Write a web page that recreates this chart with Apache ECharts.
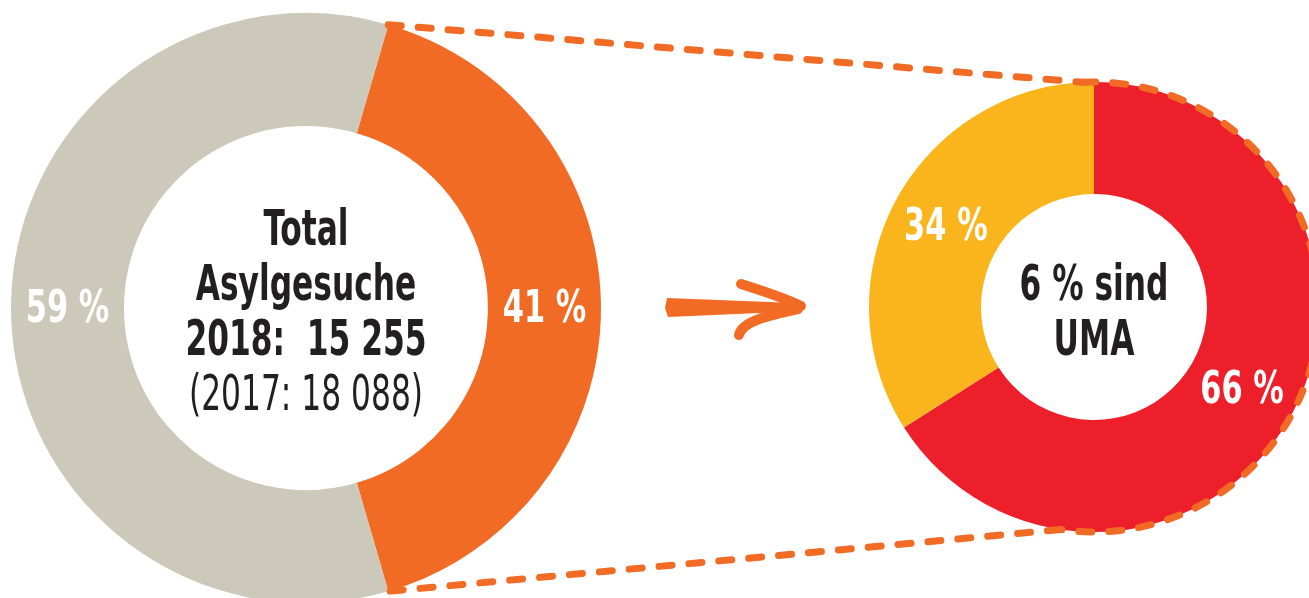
<!DOCTYPE html>
<html>
<head>
<meta charset="utf-8">
<script src="https://cdn.jsdelivr.net/npm/echarts@6/dist/echarts.min.js"></script>
<style>
  html, body { margin: 0; padding: 0; background: #fff; }
  #main { width: 1309px; height: 598px; }
</style>
</head>
<body>
<div id="main"></div>
<script>
  // Daten
  var totalNames = ['UMA-Anteil', 'Andere']
  var totalValues = [41, 59]
  var umaNames = ['66', '34']
  var umaValues = [66, 34]
  var centerTotal = ['Total', 'Asylgesuche', '2018:  15 255', '(2017: 18 088)']
  var centerUma = ['6 % sind', 'UMA']

  var FONT = '"DejaVu Sans Condensed", "DejaVu Sans", sans-serif'
  var ORANGE = '#f26b24'
  var GRAY = '#cdc9ba'
  var RED = '#ed1f2a'
  var YELLOW = '#f9b51b'
  var DARK = '#231f20'

  // layout
  var left = { cx: 306, cy: 308, r0: 182, r: 295 }
  var right = { cx: 1094, cy: 307, r0: 113, r: 225 }
  // orange slice is centred on 3 o'clock
  var leftStart = totalValues[0] / 100 * 360 / 2

  var chart = echarts.init(document.getElementById('main'), null, { renderer: 'canvas' })

  // dashed connector, derived from the pie geometry
  var a = leftStart * Math.PI / 180
  var pTop = [left.cx + left.r * Math.cos(a), left.cy - left.r * Math.sin(a)]
  var pBot = [left.cx + left.r * Math.cos(a), left.cy + left.r * Math.sin(a)]
  var arcStart = -Math.PI / 2 - 0.05
  var arcEnd = Math.PI / 2 + 0.15
  var qTop = [right.cx + right.r * Math.cos(arcStart), right.cy + right.r * Math.sin(arcStart)]
  var qBot = [right.cx + right.r * Math.cos(arcEnd), right.cy + right.r * Math.sin(arcEnd)]
  var dashStyle = { stroke: ORANGE, lineWidth: 7, lineDash: [13, 17], lineCap: 'round', fill: null }

  function textEl (t, x, y, scale, font, color) {
    return {
      type: 'text',
      x: x,
      y: y,
      scaleX: scale,
      z: 20,
      style: {
        text: t,
        fill: color,
        font: font,
        textAlign: 'center',
        textVerticalAlign: 'middle'
      }
    }
  }

  function centerTexts (lines, cx, startY, step, lastNormal) {
    return lines.map(function (t, i) {
      var w = (lastNormal && i === lines.length - 1) ? 'normal' : 'bold'
      return textEl(t, cx, startY + i * step, 0.71, w + ' 49px ' + FONT, DARK)
    })
  }

  var graphics = [
    { type: 'line', z: 15, shape: { x1: pTop[0], y1: pTop[1], x2: qTop[0], y2: qTop[1] }, style: dashStyle },
    { type: 'line', z: 15, shape: { x1: qBot[0], y1: qBot[1], x2: pBot[0], y2: pBot[1] }, style: dashStyle },
    { type: 'arc', z: 15, shape: { cx: right.cx, cy: right.cy, r: right.r, startAngle: arcStart, endAngle: arcEnd, clockwise: true }, style: dashStyle },
    // Pfeil
    { type: 'polygon', z: 15, shape: { points: [[667, 298], [795, 303], [804, 307], [782, 312], [668, 317], [665, 308]] }, style: { fill: ORANGE } },
    { type: 'bezierCurve', z: 15, shape: { x1: 741, y1: 284, x2: 801, y2: 306, cpx1: 760, cpy1: 290, cpx2: 785, cpy2: 298 }, style: { stroke: ORANGE, lineWidth: 10, lineCap: 'round', fill: null } },
    { type: 'bezierCurve', z: 15, shape: { x1: 739, y1: 335, x2: 798, y2: 309, cpx1: 742, cpy1: 322, cpx2: 765, cpy2: 316 }, style: { stroke: ORANGE, lineWidth: 10, lineCap: 'round', fill: null } }
  ]
  graphics = graphics.concat(centerTexts(centerTotal, left.cx, 232, 55, true))
  graphics = graphics.concat(centerTexts(centerUma, right.cx, 287, 55, false))

  function pieSeries (geo, start, names, values, colors) {
    return {
      type: 'pie',
      center: [geo.cx, geo.cy],
      radius: [geo.r0, geo.r],
      startAngle: start,
      clockwise: true,
      silent: true,
      label: { show: false },
      labelLine: { show: false },
      itemStyle: { borderWidth: 0 },
      data: names.map(function (n, i) {
        return { name: n, value: values[i], itemStyle: { color: colors[i] } }
      })
    }
  }

  var option = {
    backgroundColor: '#fff',
    animation: false,
    series: [
      pieSeries(left, leftStart, totalNames, totalValues, [ORANGE, GRAY]),
      pieSeries(right, 90, umaNames, umaValues, [RED, YELLOW])
    ],
    graphic: graphics
  }

  chart.setOption(option)

  // Prozent-Labels in der Ringmitte, Position aus dem Pie-Layout
  var labels = []
  ;[0, 1].forEach(function (si) {
    var data = chart.getModel().getSeriesByIndex(si).getData()
    data.each(function (i) {
      var l = data.getItemLayout(i)
      var mid = (l.startAngle + l.endAngle) / 2
      var rm = (l.r + l.r0) / 2
      labels.push(textEl(data.get('value', i) + ' %', l.cx + rm * Math.cos(mid), l.cy + rm * Math.sin(mid) + 3,
        0.77, 'bold 44px ' + FONT, '#fff'))
    })
  })
  chart.setOption({ graphic: graphics.concat(labels) })
</script>
</body>
</html>
